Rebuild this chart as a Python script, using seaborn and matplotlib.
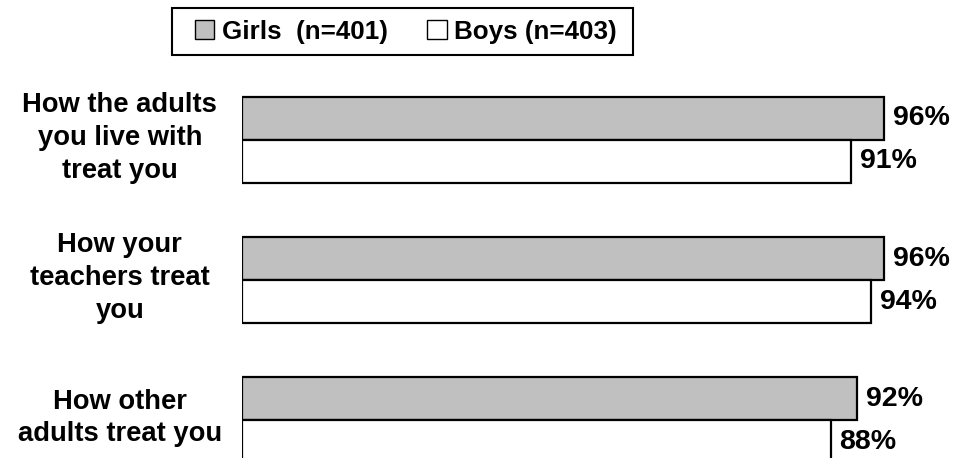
import pandas as pd
import seaborn as sns
import matplotlib.pyplot as plt
import matplotlib.transforms as mtransforms
from matplotlib.patches import Patch, Rectangle

# data
items = ['How the adults\nyou live with\ntreat you',
         'How your\nteachers treat\nyou',
         'How other\nadults treat you']
girls = [96, 96, 92]
boys = [91, 94, 88]
groups = ['Girls  (n=401)', 'Boys (n=403)']
colors = ['#c0c0c0', 'white']

df = pd.DataFrame({
    'item': items * 2,
    'pct': girls + boys,
    'group': [groups[0]] * 3 + [groups[1]] * 3,
})

sns.set_style('white')
plt.rcParams['font.family'] = ['Liberation Sans', 'DejaVu Sans']
plt.rcParams['font.weight'] = 'bold'
plt.rcParams['text.color'] = 'black'
plt.rcParams['ytick.color'] = 'black'
plt.rcParams['ytick.labelcolor'] = 'black'

fig = plt.figure(figsize=(9.59, 4.58), dpi=100)
ax = fig.add_axes([242 / 959, 0, 1 - 242 / 959, 398 / 458])

sns.barplot(data=df, y='item', x='pct', hue='group', hue_order=groups,
            palette=colors, orient='h', width=0.614, gap=0,
            edgecolor='black', linewidth=1.6, legend=False, ax=ax)

for cont in ax.containers:
    ax.bar_label(cont, labels=[f'{int(b.get_width())}%' for b in cont],
                 padding=6.5, fontsize=20.5, fontweight='bold', color='black')

ax.set_xlim(0, 107.2)
ax.set_ylim(2.271, -0.571)
ax.set_xlabel('')
ax.set_ylabel('')
ax.set_xticks([])
ax.set_yticks(range(len(items)))
ax.set_yticklabels(items, fontsize=19.7, fontweight='bold', ha='center',
                   multialignment='center', linespacing=1.33, color='black')
ax.tick_params(axis='y', length=0, pad=88)
# nudge the category labels up a little
shift = mtransforms.ScaledTranslation(0, 6 / 72, fig.dpi_scale_trans)
for lab in ax.get_yticklabels():
    lab.set_transform(lab.get_transform() + shift)
for s in ax.spines.values():
    s.set_visible(False)

# legend with its box
handles = [Patch(facecolor=c, edgecolor='black', linewidth=1) for c in colors]
leg = fig.legend(handles, groups, ncol=2, loc='center left',
                 bbox_to_anchor=(195 / 959, 1 - 31.5 / 458),
                 prop={'size': 18.7, 'weight': 'bold'},
                 handlelength=0.75, handleheight=0.75, handletextpad=0.3,
                 columnspacing=1.5, frameon=False, borderpad=0,
                 borderaxespad=0)
for t in leg.get_texts():
    t.set_color('black')
fig.patches.append(Rectangle((172 / 959, 1 - 55 / 458), 461 / 959, 47 / 458,
                             transform=fig.transFigure, facecolor='none',
                             edgecolor='black', linewidth=1.5))

plt.savefig('out.png', dpi=100)
